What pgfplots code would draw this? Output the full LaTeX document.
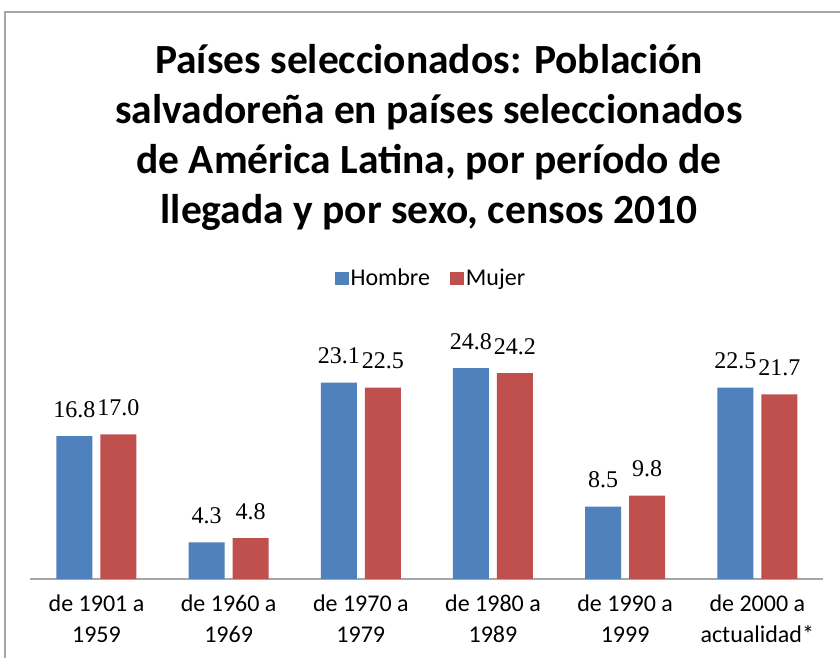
\documentclass[border=0pt]{standalone}
\usepackage{pgfplots}
\pgfplotsset{compat=1.18}
\usepackage{fontspec}
\setmainfont{Carlito}
\newfontfamily\labfont{Liberation Serif}
\definecolor{cblue}{HTML}{4F81BD}
\definecolor{cred}{HTML}{C0504D}
\definecolor{frame}{HTML}{A6A6A6}
\begin{document}
\begin{tikzpicture}[x=1pt,y=1pt]
\fill[white] (0,0) rectangle (840,658);
\draw[frame, line width=1.5pt] (5,-5) -- (5,646) -- (845,646);
\node[align=center, font=\bfseries\fontsize{41.5}{50}\selectfont] at (429,521)
  {Países seleccionados: Población\\salvadoreña en países seleccionados\\de América Latina, por período de\\llegada y por sexo, censos 2010};
\begin{axis}[
  at={(23,93)}, anchor=south west,
  scale only axis, width=793pt, height=255pt,
  ymin=0, ymax=30, xmin=-0.5, xmax=5.5,
  ybar=8pt, bar width=36pt,
  axis y line=none, axis x line*=bottom,
  x axis line style={draw=frame, line width=1.2pt},
  xtick={0,1,2,3,4,5}, major tick length=0pt,
  xticklabels={de 1901 a\\1959, de 1960 a\\1969, de 1970 a\\1979, de 1980 a\\1989, de 1990 a\\1999, de 2000 a\\actualidad*},
  xticklabel style={font=\fontsize{24}{31}\selectfont, align=center, yshift=-12pt},
  nodes near coords,
  nodes near coords style={font=\labfont\fontsize{24}{24}\selectfont, text=black, yshift=15pt,
    /pgf/number format/.cd, fixed, fixed zerofill, precision=1, assume math mode=true},
  legend style={at={(0.505,1.18)}, anchor=center, draw=none, fill=none, legend columns=2,
    font=\fontsize{24}{24}\selectfont, /tikz/every even column/.append style={column sep=18pt},
    /tikz/every odd column/.append style={inner xsep=1pt}},
  legend image code/.code={\fill[#1] (1pt,-6.5pt) rectangle (15pt,6.5pt);},
]
\addplot[fill=cblue, draw=none] coordinates {(0,16.8) (1,4.3) (2,23.1) (3,24.8) (4,8.5) (5,22.5)};
\addplot[fill=cred, draw=none] coordinates {(0,17.0) (1,4.8) (2,22.5) (3,24.2) (4,9.8) (5,21.7)};
\legend{Hombre, Mujer}
\end{axis}
\pgfresetboundingbox
\path[use as bounding box] (0,0) rectangle (840,658);
\end{tikzpicture}
\end{document}
